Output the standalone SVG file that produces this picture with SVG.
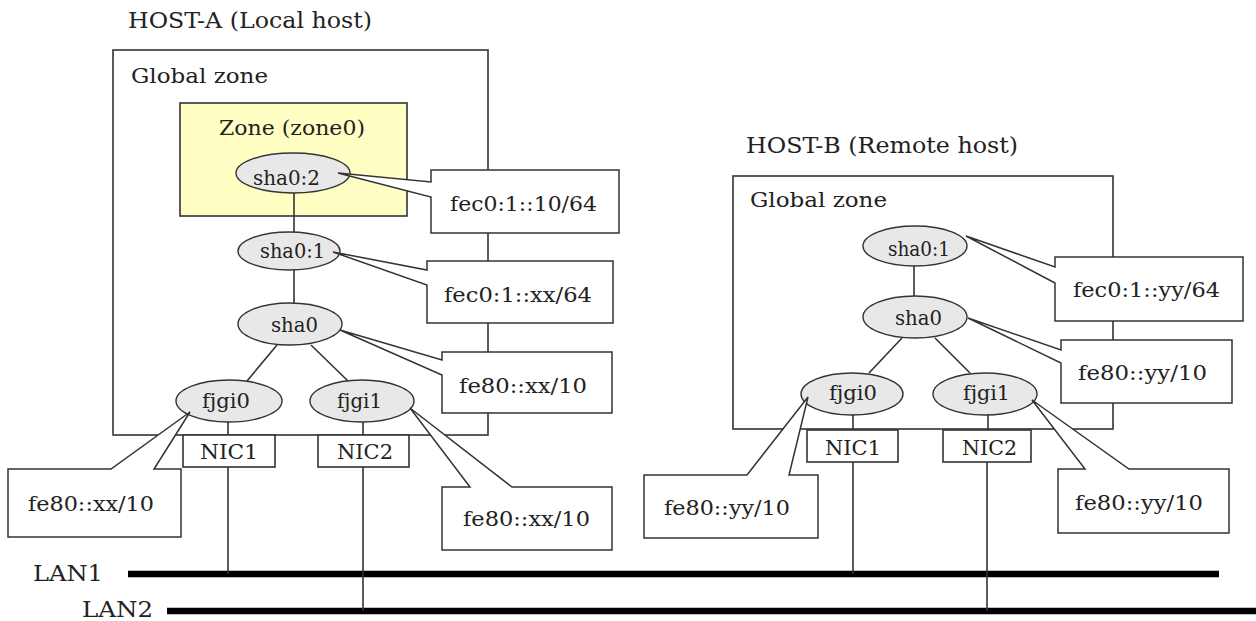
<svg xmlns="http://www.w3.org/2000/svg" width="1256" height="621" viewBox="0 0 1256 621">
<style>
  text { font-family: "DejaVu Serif", "Liberation Serif", serif; fill: #222; }
  .t20 { font-size: 20px; }
  .t21 { font-size: 21px; }
  .t22 { font-size: 22px; }
  .t23 { font-size: 23px; }
  .box { fill: #fff; stroke: #333; stroke-width: 1.6; }
  .zone { fill: #ffffc4; stroke: #333; stroke-width: 1.6; }
  .ifc { fill: #e8e8e8; stroke: #333; stroke-width: 1.4; }
  .call { fill: #fff; stroke: #333; stroke-width: 1.5; stroke-linejoin: miter; }
  .ln { stroke: #333; stroke-width: 1.6; fill: none; }
  .lan { stroke: #000; stroke-width: 6.5; fill: none; }
</style>
<rect width="1256" height="621" fill="#fff"/>

<!-- Titles -->
<text id="hostA-title" class="t22" x="128" y="28" textLength="244" lengthAdjust="spacingAndGlyphs">HOST-A (Local host)</text>
<text id="hostB-title" class="t22" x="746" y="153" textLength="272" lengthAdjust="spacingAndGlyphs">HOST-B (Remote host)</text>

<!-- Containers -->
<g id="hostA-global">
  <rect class="box" x="113" y="50" width="375" height="385"/>
  <text class="t21" x="131" y="83" textLength="137" lengthAdjust="spacingAndGlyphs">Global zone</text>
</g>
<g id="hostA-zone0">
  <rect class="zone" x="180" y="103" width="227" height="113"/>
  <text class="t21" x="219" y="135" textLength="146" lengthAdjust="spacingAndGlyphs">Zone (zone0)</text>
</g>
<g id="hostB-global">
  <rect class="box" x="733" y="176" width="380" height="253"/>
  <text class="t21" x="750" y="207" textLength="137" lengthAdjust="spacingAndGlyphs">Global zone</text>
</g>

<!-- LAN labels -->
<text id="lan1-label" class="t23" x="33" y="581" textLength="70" lengthAdjust="spacingAndGlyphs">LAN1</text>
<text id="lan2-label" class="t23" x="82" y="617" textLength="71" lengthAdjust="spacingAndGlyphs">LAN2</text>

<!-- Connectors -->
<g id="connectors">
  <line class="lan" x1="128" y1="574" x2="1219" y2="574"/>
  <line class="lan" x1="167" y1="611" x2="1256" y2="611"/>
  <!-- Host A tree -->
  <line class="ln" x1="294" y1="193" x2="294" y2="303"/>
  <line class="ln" x1="277" y1="345" x2="247" y2="381"/>
  <line class="ln" x1="311" y1="345" x2="348" y2="381"/>
  <line class="ln" x1="228" y1="421" x2="228" y2="435"/>
  <line class="ln" x1="363" y1="421" x2="363" y2="435"/>
  <line class="ln" x1="228" y1="467" x2="228" y2="574"/>
  <line class="ln" x1="363" y1="467" x2="363" y2="611"/>
  <!-- Host B tree -->
  <line class="ln" x1="914" y1="266" x2="914" y2="297"/>
  <line class="ln" x1="902" y1="338" x2="869" y2="373"/>
  <line class="ln" x1="935" y1="338" x2="970" y2="373"/>
  <line class="ln" x1="853" y1="414" x2="853" y2="430"/>
  <line class="ln" x1="988" y1="414" x2="988" y2="430"/>
  <line class="ln" x1="853" y1="462" x2="853" y2="574"/>
  <line class="ln" x1="987" y1="462" x2="987" y2="611"/>
</g>

<!-- Host A interfaces -->
<g id="hostA-sha0-2">
  <ellipse class="ifc" cx="293" cy="173" rx="57" ry="20"/>
  <text class="t20" x="253" y="185" textLength="67" lengthAdjust="spacingAndGlyphs">sha0:2</text>
</g>
<g id="hostA-sha0-1">
  <ellipse class="ifc" cx="289" cy="251" rx="51" ry="19"/>
  <text class="t20" x="260" y="258" textLength="65" lengthAdjust="spacingAndGlyphs">sha0:1</text>
</g>
<g id="hostA-sha0">
  <ellipse class="ifc" cx="290" cy="324" rx="52" ry="21"/>
  <text class="t20" x="271" y="332" textLength="47" lengthAdjust="spacingAndGlyphs">sha0</text>
</g>
<g id="hostA-fjgi0">
  <ellipse class="ifc" cx="229" cy="401" rx="53" ry="21"/>
  <text class="t20" x="202" y="408" textLength="48" lengthAdjust="spacingAndGlyphs">fjgi0</text>
</g>
<g id="hostA-fjgi1">
  <ellipse class="ifc" cx="362" cy="401" rx="52" ry="21"/>
  <text class="t20" x="337" y="408" textLength="45" lengthAdjust="spacingAndGlyphs">fjgi1</text>
</g>
<g id="hostA-nic1">
  <rect class="box" x="183" y="435" width="92" height="32"/>
  <text class="t21" x="200" y="459" textLength="58" lengthAdjust="spacingAndGlyphs">NIC1</text>
</g>
<g id="hostA-nic2">
  <rect class="box" x="318" y="435" width="91" height="32"/>
  <text class="t21" x="337" y="459" textLength="56" lengthAdjust="spacingAndGlyphs">NIC2</text>
</g>

<!-- Host B interfaces -->
<g id="hostB-sha0-1">
  <ellipse class="ifc" cx="915" cy="246" rx="52" ry="20"/>
  <text class="t20" x="888" y="256" textLength="62" lengthAdjust="spacingAndGlyphs">sha0:1</text>
</g>
<g id="hostB-sha0">
  <ellipse class="ifc" cx="915" cy="317" rx="52" ry="21"/>
  <text class="t20" x="895" y="325" textLength="47" lengthAdjust="spacingAndGlyphs">sha0</text>
</g>
<g id="hostB-fjgi0">
  <ellipse class="ifc" cx="852" cy="394" rx="51" ry="21"/>
  <text class="t20" x="829" y="400" textLength="48" lengthAdjust="spacingAndGlyphs">fjgi0</text>
</g>
<g id="hostB-fjgi1">
  <ellipse class="ifc" cx="985" cy="394" rx="52" ry="21"/>
  <text class="t20" x="963" y="400" textLength="47" lengthAdjust="spacingAndGlyphs">fjgi1</text>
</g>
<g id="hostB-nic1">
  <rect class="box" x="807" y="430" width="91" height="32"/>
  <text class="t21" x="825" y="455" textLength="56" lengthAdjust="spacingAndGlyphs">NIC1</text>
</g>
<g id="hostB-nic2">
  <rect class="box" x="943" y="430" width="88" height="32"/>
  <text class="t21" x="962" y="455" textLength="55" lengthAdjust="spacingAndGlyphs">NIC2</text>
</g>

<!-- Host A address callouts -->
<g id="hostA-addr-sha0-2">
  <polygon class="call" points="431,170 619,170 619,233 431,233 431,197 338,173 431,182"/>
  <text class="t20" x="450" y="211" textLength="147" lengthAdjust="spacingAndGlyphs">fec0:1::10/64</text>
</g>
<g id="hostA-addr-sha0-1">
  <polygon class="call" points="427,261 613,261 613,323 427,323 427,285 333,252 427,270"/>
  <text class="t20" x="444" y="302" textLength="148" lengthAdjust="spacingAndGlyphs">fec0:1::xx/64</text>
</g>
<g id="hostA-addr-sha0">
  <polygon class="call" points="442,352 612,352 612,413 442,413 442,375 340,330 442,360"/>
  <text class="t20" x="459" y="393" textLength="128" lengthAdjust="spacingAndGlyphs">fe80::xx/10</text>
</g>
<g id="hostA-addr-fjgi0">
  <polygon class="call" points="8,469 111,469 190,412 154,469 181,469 181,537 8,537"/>
  <text class="t20" x="28" y="511" textLength="126" lengthAdjust="spacingAndGlyphs">fe80::xx/10</text>
</g>
<g id="hostA-addr-fjgi1">
  <polygon class="call" points="442,487 470,487 410,408 512,487 612,487 612,550 442,550"/>
  <text class="t20" x="463" y="526" textLength="127" lengthAdjust="spacingAndGlyphs">fe80::xx/10</text>
</g>

<!-- Host B address callouts -->
<g id="hostB-addr-sha0-1">
  <polygon class="call" points="1055,257 1243,257 1243,321 1055,321 1055,283 966,236 1055,267"/>
  <text class="t20" x="1073" y="297" textLength="147" lengthAdjust="spacingAndGlyphs">fec0:1::yy/64</text>
</g>
<g id="hostB-addr-sha0">
  <polygon class="call" points="1061,340 1232,340 1232,403 1061,403 1061,363 968,318 1061,350"/>
  <text class="t20" x="1078" y="380" textLength="129" lengthAdjust="spacingAndGlyphs">fe80::yy/10</text>
</g>
<g id="hostB-addr-fjgi0">
  <polygon class="call" points="644,475 747,475 808,397 789,475 818,475 818,538 644,538"/>
  <text class="t20" x="664" y="515" textLength="126" lengthAdjust="spacingAndGlyphs">fe80::yy/10</text>
</g>
<g id="hostB-addr-fjgi1">
  <polygon class="call" points="1058,469 1085,469 1032,400 1129,469 1229,469 1229,533 1058,533"/>
  <text class="t20" x="1075" y="510" textLength="128" lengthAdjust="spacingAndGlyphs">fe80::yy/10</text>
</g>
</svg>
